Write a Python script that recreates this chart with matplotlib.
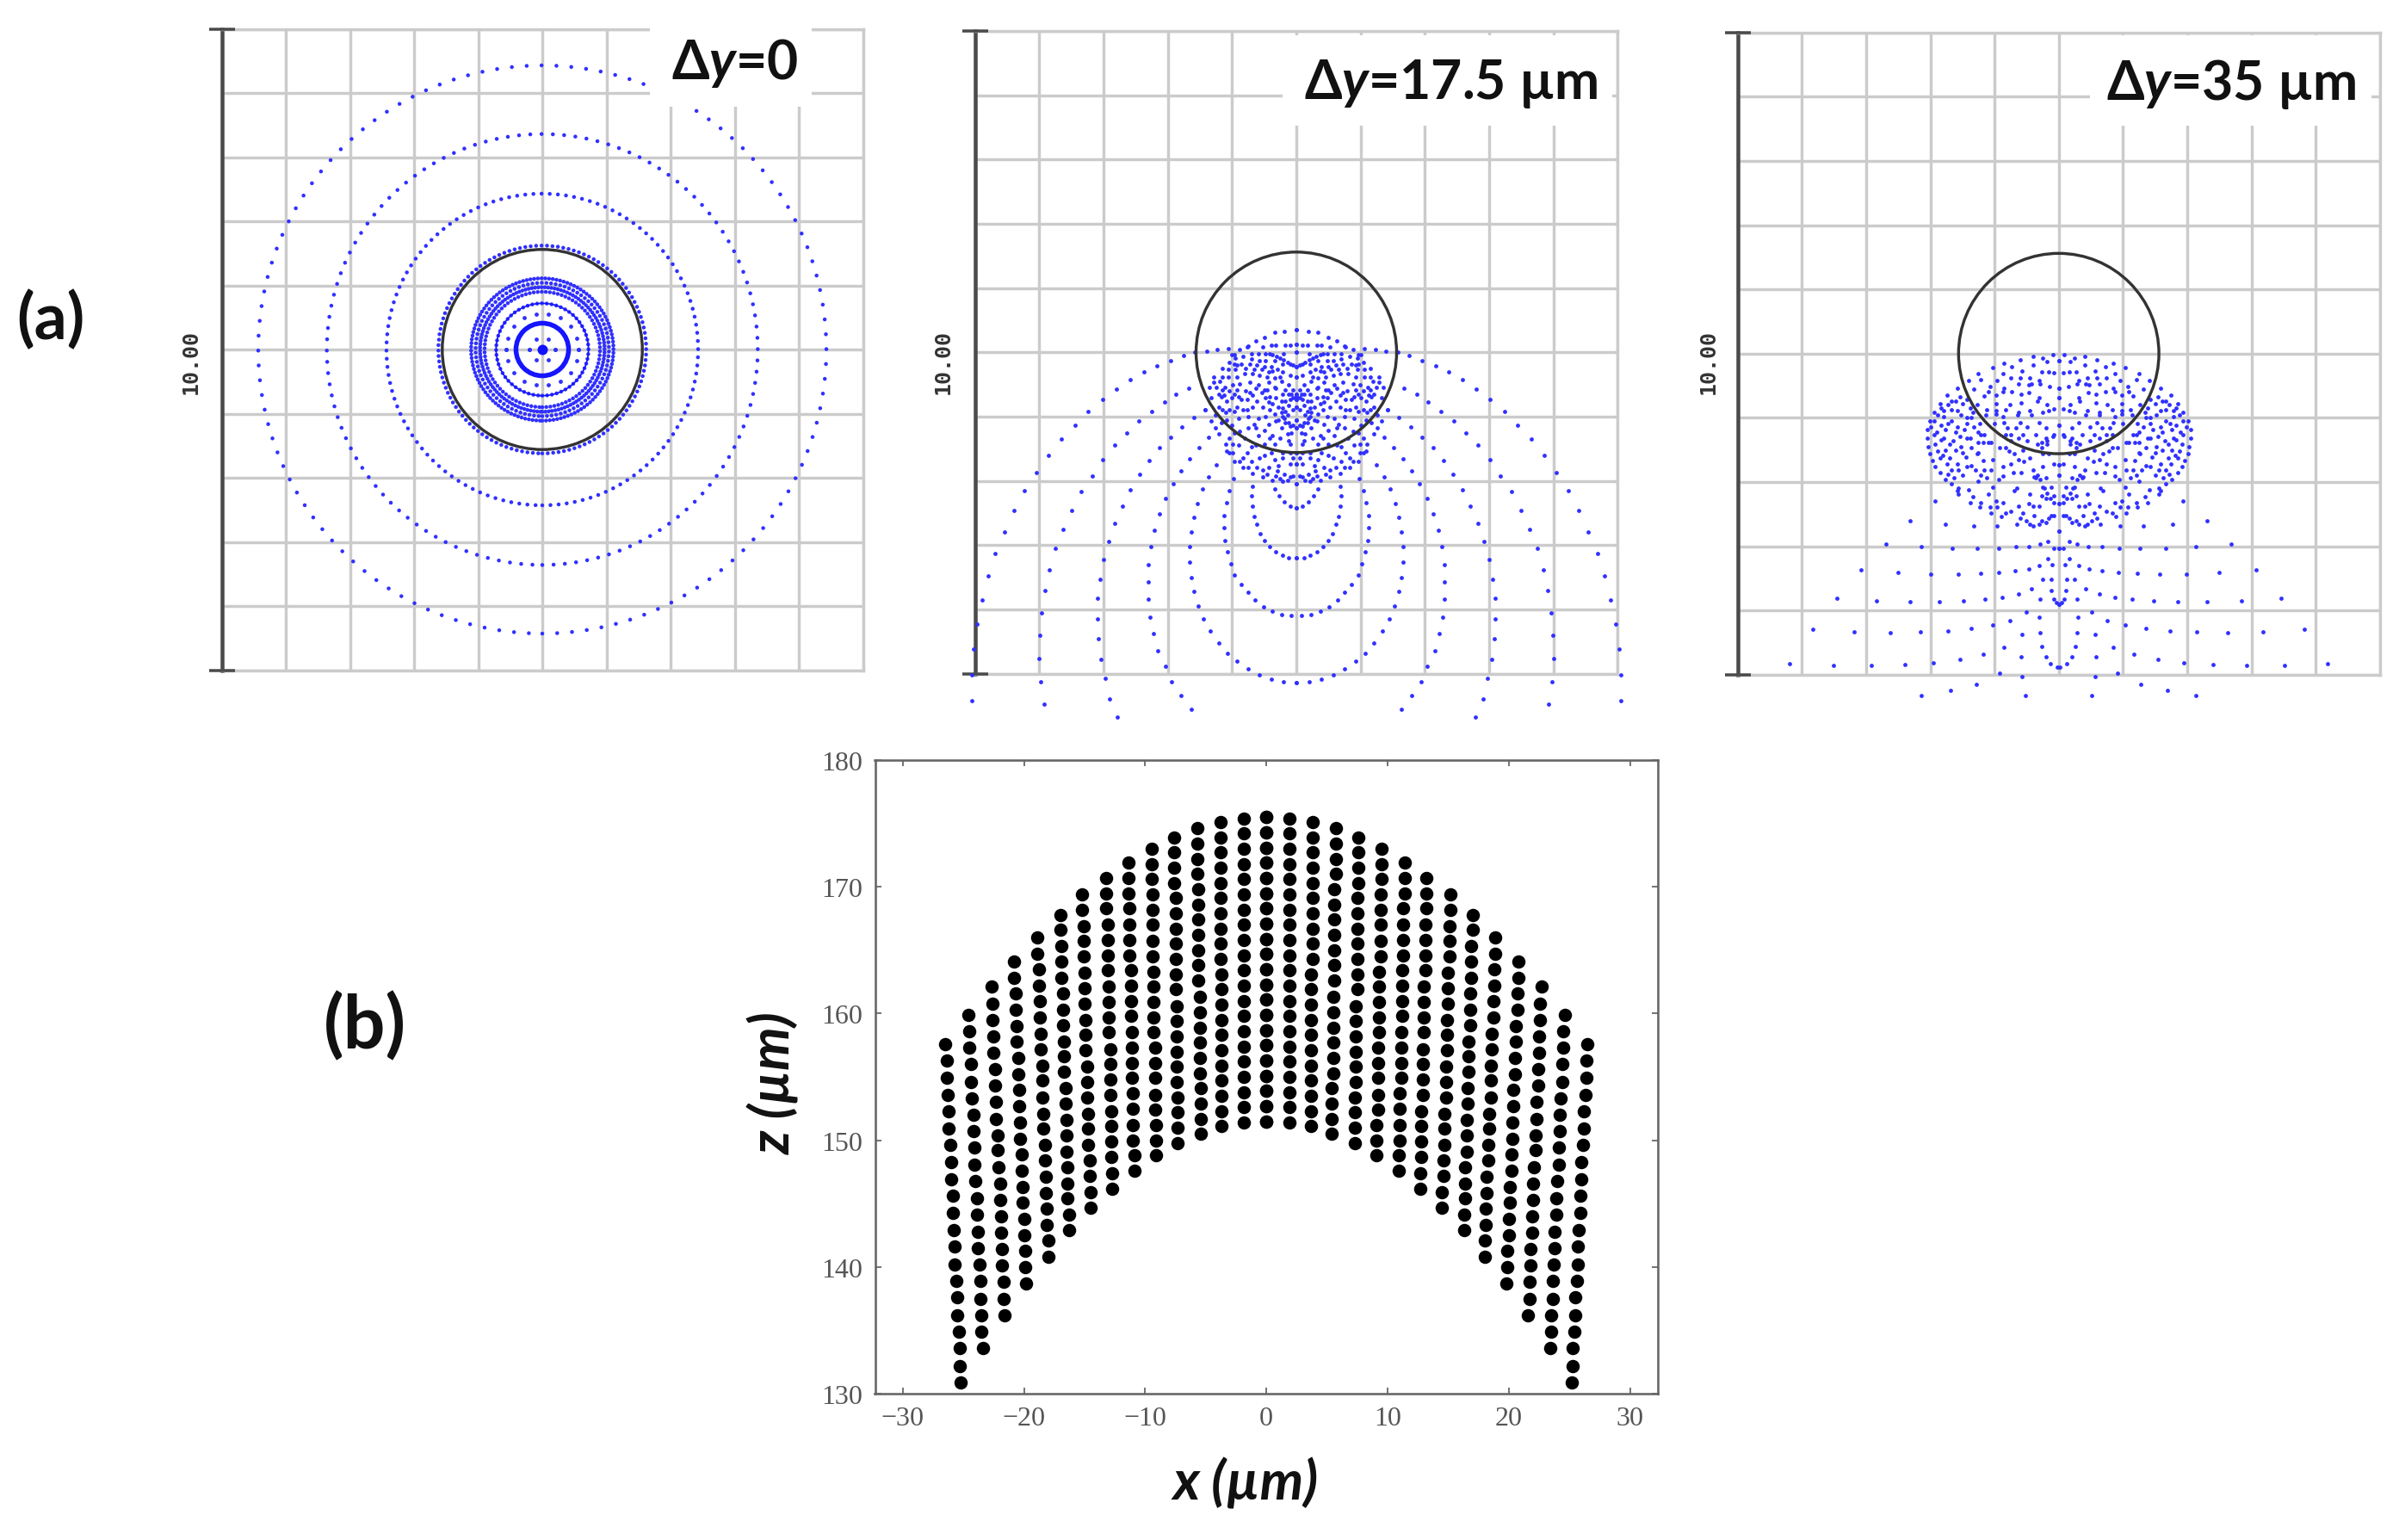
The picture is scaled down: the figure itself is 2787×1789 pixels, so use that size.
import numpy as np
import matplotlib
matplotlib.use("Agg")
import matplotlib.pyplot as plt
from matplotlib.patches import Circle, Rectangle

# ---------- data ----------
p1_dotted_ring_radii = [4.43, 3.36, 2.43, 1.62, 1.11, 1.04, 0.97, 0.90, 0.72]
p1_dotted_ring_counts = [120, 120, 120, 120, 120, 90, 120, 90, 60]
p1_solid_ring_radii = [0.72, 0.41]
p1_solid_ring_widths = [1.6, 5.5]
p1_q_x = [-0.10, -0.28, -0.44, -0.54, -0.57, -0.20, -0.10, 0.0]
p1_q_y = [0.55, 0.49, 0.36, 0.18, 0.0, 0.0, 0.16, 0.0]
target_radius = 1.56

p2_arc_a_x = [-5.05, -5.05, -5.02, -4.97, -4.89, -4.80, -4.69, -4.54, -4.39, -4.23, -4.04, -3.86, -3.65, -3.44, -3.24, -3.02, -2.80, -2.58, -2.37, -2.17, -1.96, -1.76, -1.58, -1.39, -1.23, -1.06]
p2_arc_a_y = [-5.42, -5.02, -4.62, -4.23, -3.85, -3.48, -3.13, -2.79, -2.46, -2.16, -1.87, -1.60, -1.35, -1.13, -0.92, -0.74, -0.57, -0.43, -0.31, -0.21, -0.13, -0.05, 0.0, 0.02, 0.04, 0.06]
p2_arc_b_x = [-3.93, -3.98, -4.00, -3.99, -3.97, -3.91, -3.84, -3.75, -3.63, -3.50, -3.35, -3.18, -3.01, -2.83, -2.64, -2.45, -2.25, -2.05, -1.87, -1.67]
p2_arc_b_y = [-5.48, -5.13, -4.77, -4.41, -4.06, -3.71, -3.38, -3.05, -2.75, -2.46, -2.17, -1.92, -1.67, -1.45, -1.25, -1.07, -0.92, -0.78, -0.65, -0.56]
p2_arc_c_x = [-2.79, -2.90, -2.98, -3.04, -3.08, -3.10, -3.09, -3.05, -3.00, -2.92, -2.83, -2.71, -2.59, -2.44, -2.29, -2.13, -1.96, -1.78, -1.60, -1.42]
p2_arc_c_y = [-5.68, -5.39, -5.08, -4.78, -4.46, -4.15, -3.83, -3.53, -3.23, -2.94, -2.66, -2.39, -2.14, -1.90, -1.69, -1.49, -1.32, -1.16, -1.01, -0.89]
p2_arc_d_x = [-1.63, -1.79, -1.94, -2.04, -2.15, -2.23, -2.28, -2.31, -2.31, -2.30, -2.27, -2.21, -2.13, -2.03, -1.92, -1.80, -1.66, -1.51, -1.36]
p2_arc_d_y = [-5.55, -5.34, -5.13, -4.89, -4.64, -4.38, -4.12, -3.84, -3.57, -3.30, -3.03, -2.77, -2.52, -2.28, -2.05, -1.84, -1.66, -1.48, -1.32]
p2_arc_e_x = [0.0, -0.20, -0.39, -0.58, -0.75, -0.92, -1.07, -1.21, -1.34, -1.44, -1.53, -1.59, -1.63, -1.66, -1.66, -1.64, -1.60, -1.54, -1.46, -1.37, -1.25]
p2_arc_e_y = [-5.14, -5.13, -5.09, -5.02, -4.93, -4.81, -4.68, -4.53, -4.34, -4.15, -3.95, -3.72, -3.50, -3.27, -3.03, -2.80, -2.57, -2.35, -2.13, -1.94, -1.75]
p2_arc_f_x = [-0.08, -0.23, -0.38, -0.51, -0.64, -0.75, -0.86, -0.96, -1.02, -1.07, -1.11, -1.12, -1.12, -1.09, -1.04, -0.98]
p2_arc_f_y = [-4.10, -4.08, -4.03, -3.96, -3.86, -3.74, -3.61, -3.46, -3.29, -3.11, -2.93, -2.73, -2.54, -2.34, -2.15, -1.97]
p2_arc_g_x = [0.0, -0.12, -0.22, -0.32, -0.41, -0.50, -0.56, -0.62, -0.66, -0.68, -0.69, -0.68]
p2_arc_g_y = [-3.20, -3.20, -3.16, -3.10, -3.02, -2.93, -2.82, -2.68, -2.55, -2.40, -2.24, -2.08]
p2_arc_h_x = [0.0, -0.10, -0.19, -0.27, -0.33]
p2_arc_h_y = [-2.42, -2.39, -2.33, -2.24, -2.13]
p2_edge_x = [-0.88, -0.75, -0.63, -0.50, -0.34, -0.19, 0.0, -1.01, -1.15, -1.28, -1.35, -1.33, -1.42, -1.33, -1.26, -1.21, -1.10, -1.08, -0.97, -0.83, -0.68, -0.52, -0.37, -0.21, 0.0]
p2_edge_y = [0.05, 0.10, 0.18, 0.23, 0.31, 0.33, 0.35, -0.04, -0.25, -0.38, -0.54, -0.71, -0.89, -1.07, -1.18, -1.27, -1.43, -1.54, -1.70, -1.79, -1.88, -1.94, -1.99, -2.01, -2.04]
p2_chevron_x = [-0.39, -0.32, -0.17, -0.10, 0.0, -0.52, -0.59, -0.48, -0.42, -0.37, -0.31, -0.25, -0.20, -0.14, -0.10, -0.05, 0.0, -0.20, 0.0, -0.86, -0.72, -0.61, -0.50, -0.39, -0.30, -0.21, -0.10, 0.0, -0.81, -0.68, -0.57, -0.46, -0.34, -0.23, -0.12, -0.05, 0.0, 0.0, 0.0]
p2_chevron_y = [0.11, 0.11, 0.11, 0.11, 0.13, 0.09, -0.02, -0.02, -0.03, -0.04, -0.07, -0.09, -0.12, -0.16, -0.18, -0.20, -0.22, -0.02, 0.0, -0.18, -0.18, -0.20, -0.22, -0.22, -0.27, -0.31, -0.36, -0.38, -0.33, -0.33, -0.36, -0.38, -0.40, -0.45, -0.51, -0.58, -0.65, -0.69, -0.74]
p2_cluster_x = [-1.19, -1.06, -0.95, -0.97, -1.11, -0.99, -0.88, -0.72, -0.59, -0.46, -0.32, -0.21, -1.17, -1.08, -0.97, -0.86, -0.72, -0.61, -0.48, -0.37, -0.28, -0.21, -0.12, -0.05, 0.0, -1.21, -1.10, -0.97, -0.83, -0.75, -0.59, -0.43, -0.32, -0.21, -0.17, -0.10, 0.0, 0.0, -0.14, -0.23, -0.37, -0.25, -0.14, -1.17, -1.01, -0.88, -0.75, -0.59, -0.50, -1.04, -0.90, -0.77, -0.63, -0.50, -0.34, -0.21, -0.12, -0.10, -0.10, 0.0, 0.0, -0.05, -0.57, -0.83, -0.43, -0.30, -0.19, -0.10, -0.32, -0.61, -0.99]
p2_cluster_y = [-0.45, -0.38, -0.27, -0.18, -0.54, -0.51, -0.49, -0.47, -0.51, -0.58, -0.56, -0.65, -0.69, -0.76, -0.65, -0.74, -0.62, -0.76, -0.71, -0.80, -0.85, -0.87, -0.83, -0.89, -0.85, -0.85, -0.94, -0.92, -0.89, -1.00, -1.03, -1.12, -1.07, -1.00, -1.09, -1.15, -1.18, -1.05, -0.98, -1.18, -1.29, -1.34, -1.27, -1.09, -1.14, -1.23, -1.18, -1.29, -1.43, -1.34, -1.45, -1.56, -1.45, -1.61, -1.67, -1.56, -1.38, -1.56, -1.74, -1.56, -1.74, -1.65, -1.65, -1.65, -1.79, -1.85, -1.90, -1.94, -1.92, -1.79, -1.56]
p2_lobe_x = [-1.28, -1.24, -1.15, -1.21, -1.12, -1.04, -1.01, -0.92, -0.90, -0.79, -0.77, -0.68, -0.63, -0.54, -0.50, -0.41, -0.43, -0.32, -0.23, -0.17, -0.10, -0.05, -0.52, -0.41, -0.68, -0.77, -0.92, -1.04, -1.15, -1.26, -1.08, -0.90, -0.66, -0.50, -0.41, -0.34, -0.63, -0.97, -0.81, -0.70, -0.99, -1.04, -0.88, -0.70, -0.75, -0.52, -0.46, -0.25, -0.14, -0.05, -0.28, -0.21, -0.39, -0.10, -0.08, -0.05, -0.12, -0.19, -0.17, -0.23, -0.28, -0.34, -0.48, -0.97, -0.83, -0.70, -0.77, -0.95, -1.04, -0.92, -0.79, -0.66, -1.06, -1.15, -0.92, -0.54, -0.43, -0.48, -0.34, -0.57, -0.70, -0.21, -0.37, -0.25, -0.43, -0.34, -0.17, -0.12, -0.08]
p2_lobe_y = [-0.47, -0.54, -0.58, -0.65, -0.67, -0.60, -0.71, -0.58, -0.69, -0.60, -0.74, -0.67, -0.56, -0.62, -0.58, -0.69, -0.78, -0.71, -0.76, -0.76, -0.74, -0.71, -0.85, -0.89, -0.85, -0.89, -0.85, -0.89, -0.89, -0.98, -1.05, -1.03, -1.12, -1.21, -1.34, -1.43, -1.18, -1.25, -1.34, -1.47, -1.43, -1.56, -1.70, -1.70, -1.79, -1.83, -1.90, -1.96, -1.99, -1.92, -1.76, -1.65, -1.56, -1.43, -1.25, -1.14, -1.09, -1.03, -0.92, -0.94, -1.05, -0.96, -1.00, -0.04, -0.07, -0.02, 0.09, -0.09, -0.16, -0.20, -0.25, -0.27, -0.27, -0.38, -0.38, -0.27, -0.31, -0.13, -0.13, -0.13, -0.11, -0.18, -0.29, -0.38, -0.47, -0.54, -0.58, -0.65, -0.65]

p3_sparse_x = [-4.19, -3.51, -2.92, -2.40, -1.95, -1.54, -1.17, -0.85, -0.58, -0.26, -0.20, -0.13, -0.02, -3.83, -3.18, -2.63, -2.15, -1.73, -1.36, -1.03, -0.76, -0.51, -0.30, -0.57, -0.29, -3.46, -2.84, -2.31, -1.86, -1.48, -1.15, -0.88, -0.63, -0.42, -0.29, -0.08, -0.11, -0.25, -0.12, 0.0, -0.04, -3.08, -2.50, -1.99, -1.57, -1.22, -0.93, -0.68, -0.47, -0.31, -0.10, -0.17, -2.69, -2.14, -1.66, -1.27, -0.94, -0.67, -0.46, -0.29, -0.17, 0.0, -0.07, -2.31, -1.77, -1.32, -0.96, -1.93, -2.14, -1.69, -1.28, -0.92, -0.57, -0.52]
p3_sparse_y = [-4.83, -4.86, -4.86, -4.84, -4.81, -4.76, -4.68, -4.57, -4.72, -4.56, -4.72, -4.83, -4.89, -4.30, -4.33, -4.35, -4.34, -4.32, -4.28, -4.23, -4.16, -4.03, -4.11, -4.38, -4.35, -3.81, -3.85, -3.87, -3.87, -3.85, -3.82, -3.80, -3.75, -3.66, -3.82, -3.82, -3.69, -3.52, -3.51, -3.91, -3.88, -3.37, -3.41, -3.43, -3.43, -3.42, -3.41, -3.38, -3.35, -3.30, -3.29, -3.20, -2.97, -3.01, -3.04, -3.03, -3.03, -3.01, -3.00, -2.97, -2.93, -3.04, -3.03, -2.61, -2.66, -2.69, -2.69, -2.30, -5.33, -5.25, -5.15, -4.98, -5.03, -5.32]
p3_cluster_x = [-2.05, -2.05, -2.03, -2.01, -1.96, -1.92, -1.85, -1.76, -1.67, -1.58, -2.01, -1.94, -1.85, -1.74, -1.58, -1.41, -1.25, -1.03, -0.85, -0.73, -0.60, -0.40, -0.40, -0.25, -0.18, -0.09, 0.0, -0.57, -0.27, -0.07, -0.87, -0.74, -0.63, -0.45, -0.42, -0.29, -0.15, 0.0, -1.07, -1.21, -1.32, -1.16, -0.98, -0.85, -0.73, -0.58, -0.46, -0.31, 0.0, -0.76, -0.58, -0.45, -0.98, -1.12, -0.18, -0.16, -0.07, -0.87, -0.64, -0.31, -0.60, -0.49, -0.67, -0.80, -0.74, -0.56, -0.36, -0.20, -0.07, 0.0, -0.49, -0.18, -0.09, -0.27, -0.18, -0.83, -0.56, -1.09, -1.25, -1.18, -1.25, -1.23, -1.36, -1.43, -1.58, -1.72, -1.61, -1.50, -1.58, -1.47, -1.67, -1.83, -1.76, -1.90, -1.79, -1.65, -1.52, -1.38, -1.76, -1.85, -1.70, -1.58, -1.45, -1.36, -1.27, -1.16, -1.50, -1.25, -1.03, -0.87, -0.74, -0.71, -0.63, -0.54, -0.45, -0.40, -0.36, -0.25, -0.20, -0.07, 0.0, 0.0, -0.22, -0.11, -0.07, 0.0, -1.56, -1.41, -1.34, -1.38, -1.23, -1.09, -0.98, -1.05, -0.87, -0.89, -0.74, -0.65, -0.63, -0.40, -0.56, -0.38, -0.31, -0.20, -0.51, -0.40, -0.27, -0.16, -0.07, 0.0, -0.69, -0.45, -1.03]
p3_cluster_y = [-1.18, -1.32, -1.45, -1.56, -1.67, -1.76, -1.85, -1.96, -2.03, -2.14, -1.05, -0.92, -0.78, -0.65, -0.54, -0.42, -0.31, -0.22, -0.15, -0.20, -0.10, -0.04, -0.18, -0.07, -0.12, -0.02, -0.11, -0.27, -0.29, -0.30, -0.31, -0.38, -0.47, -0.38, -0.47, -0.47, -0.51, -0.54, -0.51, -0.40, -0.56, -0.66, -0.65, -0.54, -0.60, -0.63, -0.61, -0.69, -0.69, -0.79, -0.77, -0.89, -0.78, -0.87, -0.80, -0.89, -0.86, -0.98, -0.96, -1.07, -1.07, -1.14, -1.16, -1.16, -1.27, -1.27, -1.27, -1.16, -1.27, -1.12, -1.36, -1.41, -1.29, -1.47, -1.36, -1.47, -1.50, -1.38, -1.38, -1.38, -1.23, -1.09, -1.00, -1.00, -0.89, -0.80, -0.74, -0.78, -1.14, -1.18, -1.05, -1.12, -1.18, -1.23, -1.32, -1.36, -1.45, -1.32, -1.50, -1.63, -1.63, -1.72, -1.61, -1.74, -1.56, -1.81, -1.89, -1.99, -1.65, -1.91, -1.72, -1.86, -1.65, -1.68, -1.63, -1.81, -1.94, -1.76, -1.94, -1.72, -1.73, -1.89, -2.10, -2.08, -2.21, -2.34, -2.10, -2.12, -2.23, -2.32, -2.39, -2.19, -2.30, -2.48, -2.32, -2.54, -2.46, -2.66, -2.37, -2.37, -2.48, -2.52, -2.37, -2.25, -2.61, -2.68, -2.61, -2.57, -2.52, -2.77, -2.13, -2.19, -2.08]
p3_lobe_x = [-1.99, -1.94, -1.92, -1.88, -1.83, -1.94, -1.88, -1.79, -1.67, -1.79, -1.67, -1.83, -1.54, -1.43, -1.38, -1.52, -1.73, -1.61, -1.54, -1.70, -1.61, -1.81, -1.74, -1.67, -1.72, -1.63, -1.56, -1.43, -1.50, -1.36, -1.43, -1.32, -1.43, -1.34, -1.14, -0.98, -1.00, -0.85, -1.27, -1.16, -1.05, -1.21, -0.92, -0.78, -0.69, -1.25, -1.18, -1.29, -1.21, -1.05, -0.87, -0.58, -0.33, -0.29, -0.38, -0.25, -0.18, -0.13, -0.27, -0.07, -0.94, -0.65, -0.47, -0.60, -0.45, -0.31, -0.20, -0.11, -0.83, -0.96, -1.07, -1.21, -1.56, -1.12, -0.74, -0.83, -0.20, -0.27, -0.33, -0.63, -0.25, -0.16, -0.60, -0.16, -0.31, -0.47, -0.96, -0.87, -1.09, -0.63, -0.42, -0.25, -0.83, -0.98, -0.33]
p3_lobe_y = [-1.14, -1.27, -1.41, -1.52, -1.34, -1.05, -0.96, -0.89, -0.87, -0.98, -0.74, -0.85, -0.67, -0.71, -0.85, -0.96, -1.09, -1.23, -1.29, -1.41, -1.50, -1.58, -1.72, -1.81, -1.88, -1.94, -1.81, -1.76, -1.54, -1.47, -1.32, -1.14, -1.09, -0.92, -0.96, -0.94, -1.09, -1.07, -0.80, -1.27, -1.38, -1.27, -1.47, -1.52, -1.56, -1.54, -1.67, -1.81, -1.90, -1.81, -1.76, -1.85, -1.90, -1.96, -1.92, -2.08, -2.17, -2.25, -2.21, -2.32, -1.96, -2.10, -2.34, -2.57, -2.66, -2.66, -2.63, -2.52, -2.48, -2.39, -2.39, -2.32, -2.19, -1.94, -1.36, -1.27, -1.32, -1.38, -1.41, -1.32, -1.56, -1.56, -0.38, -0.29, -0.42, -0.49, -0.42, -0.60, -0.60, -0.92, -0.96, -0.92, -0.87, -0.89, -0.74]

b_x01 = [-26.5, -26.4, -26.4, -26.3, -26.2, -26.2, -26.1, -26.0, -26.0, -25.9, -25.9, -25.8, -25.7, -25.7, -25.6, -25.5, -25.5, -25.4, -25.3, -25.3, -25.2]
b_z01 = [157.6, 156.3, 154.9, 153.6, 152.3, 150.9, 149.6, 148.3, 146.9, 145.6, 144.3, 142.9, 141.6, 140.2, 138.9, 137.6, 136.2, 134.9, 133.6, 132.2, 130.9]
b_x02 = [-24.6, -24.5, -24.5, -24.4, -24.4, -24.3, -24.2, -24.2, -24.1, -24.1, -24.0, -23.9, -23.9, -23.8, -23.8, -23.7, -23.6, -23.6, -23.5, -23.5, -23.4]
b_z02 = [159.9, 158.6, 157.3, 156.0, 154.6, 153.3, 152.0, 150.7, 149.4, 148.1, 146.8, 145.4, 144.1, 142.8, 141.5, 140.2, 138.9, 137.5, 136.2, 134.9, 133.6]
b_x03 = [-22.7, -22.6, -22.6, -22.5, -22.5, -22.4, -22.4, -22.3, -22.3, -22.2, -22.2, -22.1, -22.0, -22.0, -21.9, -21.9, -21.8, -21.8, -21.7, -21.7, -21.6]
b_z03 = [162.1, 160.8, 159.5, 158.2, 156.9, 155.6, 154.3, 153.0, 151.7, 150.4, 149.2, 147.9, 146.6, 145.3, 144.0, 142.7, 141.4, 140.1, 138.8, 137.5, 136.2]
b_x04 = [-20.8, -20.8, -20.7, -20.7, -20.6, -20.6, -20.5, -20.5, -20.4, -20.4, -20.3, -20.3, -20.2, -20.2, -20.1, -20.1, -20.0, -20.0, -19.9, -19.9, -19.8]
b_z04 = [164.1, 162.8, 161.6, 160.3, 159.0, 157.8, 156.5, 155.2, 154.0, 152.7, 151.4, 150.1, 148.9, 147.6, 146.3, 145.1, 143.8, 142.5, 141.3, 140.0, 138.7]
b_x05 = [-18.9, -18.9, -18.8, -18.8, -18.7, -18.7, -18.6, -18.6, -18.5, -18.5, -18.5, -18.4, -18.4, -18.3, -18.3, -18.2, -18.2, -18.1, -18.1, -18.0, -18.0]
b_z05 = [166.0, 164.7, 163.5, 162.2, 161.0, 159.7, 158.4, 157.2, 155.9, 154.7, 153.4, 152.1, 150.9, 149.6, 148.4, 147.1, 145.8, 144.6, 143.3, 142.1, 140.8]
b_x06 = [-17.0, -17.0, -16.9, -16.9, -16.9, -16.8, -16.8, -16.8, -16.7, -16.7, -16.7, -16.6, -16.6, -16.5, -16.5, -16.5, -16.4, -16.4, -16.4, -16.3, -16.3]
b_z06 = [167.8, 166.6, 165.3, 164.1, 162.8, 161.6, 160.3, 159.1, 157.8, 156.6, 155.4, 154.1, 152.9, 151.6, 150.4, 149.1, 147.9, 146.6, 145.4, 144.1, 142.9]
b_x07 = [-15.2, -15.2, -15.1, -15.1, -15.1, -15.0, -15.0, -15.0, -14.9, -14.9, -14.9, -14.8, -14.8, -14.8, -14.7, -14.7, -14.7, -14.6, -14.6, -14.5, -14.5]
b_z07 = [169.4, 168.2, 166.9, 165.7, 164.5, 163.2, 162.0, 160.8, 159.5, 158.3, 157.1, 155.8, 154.6, 153.4, 152.1, 150.9, 149.6, 148.4, 147.2, 145.9, 144.7]
b_x08 = [-13.2, -13.2, -13.2, -13.1, -13.1, -13.1, -13.1, -13.0, -13.0, -13.0, -13.0, -12.9, -12.9, -12.9, -12.9, -12.8, -12.8, -12.8, -12.8, -12.7, -12.7]
b_z08 = [170.7, 169.5, 168.3, 167.0, 165.8, 164.6, 163.4, 162.1, 160.9, 159.7, 158.5, 157.2, 156.0, 154.8, 153.6, 152.3, 151.1, 149.9, 148.7, 147.4, 146.2]
b_x09 = [-11.4, -11.4, -11.4, -11.3, -11.3, -11.3, -11.3, -11.2, -11.2, -11.2, -11.2, -11.1, -11.1, -11.1, -11.1, -11.0, -11.0, -11.0, -11.0, -10.9, -10.9]
b_z09 = [171.9, 170.7, 169.5, 168.3, 167.0, 165.8, 164.6, 163.4, 162.2, 161.0, 159.8, 158.5, 157.3, 156.1, 154.9, 153.7, 152.5, 151.2, 150.0, 148.8, 147.6]
b_x10 = [-9.5, -9.5, -9.5, -9.4, -9.4, -9.4, -9.4, -9.4, -9.3, -9.3, -9.3, -9.3, -9.3, -9.2, -9.2, -9.2, -9.2, -9.2, -9.1, -9.1, -9.1]
b_z10 = [173.0, 171.8, 170.6, 169.4, 168.2, 167.0, 165.7, 164.5, 163.3, 162.1, 160.9, 159.7, 158.5, 157.3, 156.1, 154.9, 153.6, 152.4, 151.2, 150.0, 148.8]
b_x11 = [-7.6, -7.6, -7.6, -7.6, -7.5, -7.5, -7.5, -7.5, -7.5, -7.5, -7.5, -7.4, -7.4, -7.4, -7.4, -7.4, -7.4, -7.3, -7.3, -7.3, -7.3]
b_z11 = [173.9, 172.7, 171.5, 170.3, 169.1, 167.9, 166.7, 165.5, 164.3, 163.1, 161.9, 160.6, 159.4, 158.2, 157.0, 155.8, 154.6, 153.4, 152.2, 151.0, 149.8]
b_x12 = [-5.7, -5.7, -5.7, -5.7, -5.6, -5.6, -5.6, -5.6, -5.6, -5.6, -5.6, -5.5, -5.5, -5.5, -5.5, -5.5, -5.5, -5.4, -5.4, -5.4, -5.4]
b_z12 = [174.6, 173.4, 172.2, 171.0, 169.8, 168.6, 167.4, 166.2, 165.0, 163.8, 162.6, 161.3, 160.1, 158.9, 157.7, 156.5, 155.3, 154.1, 152.9, 151.7, 150.5]
b_x13 = [-3.8, -3.8, -3.8, -3.8, -3.8, -3.8, -3.8, -3.8, -3.8, -3.8, -3.7, -3.7, -3.7, -3.7, -3.7, -3.7, -3.7, -3.7, -3.7, -3.7, -3.7]
b_z13 = [175.1, 173.9, 172.7, 171.5, 170.3, 169.1, 167.9, 166.7, 165.5, 164.3, 163.1, 161.9, 160.7, 159.5, 158.3, 157.1, 155.9, 154.7, 153.5, 152.3, 151.1]
b_x14 = [-1.9, -1.9, -1.9, -1.9, -1.9, -1.9, -1.9, -1.9, -1.9, -1.9, -1.9, -1.9, -1.9, -1.9, -1.9, -1.9, -1.9, -1.9, -1.9, -1.9, -1.9]
b_z14 = [175.4, 174.2, 173.0, 171.8, 170.6, 169.4, 168.2, 167.0, 165.8, 164.6, 163.4, 162.2, 161.0, 159.8, 158.6, 157.4, 156.2, 155.0, 153.8, 152.6, 151.4]
b_x15 = [0.0, 0.0, 0.0, 0.0, 0.0, 0.0, 0.0, 0.0, 0.0, 0.0, 0.0, 0.0, 0.0, 0.0, 0.0, 0.0, 0.0, 0.0, 0.0, 0.0, 0.0]
b_z15 = [175.5, 174.3, 173.1, 171.9, 170.7, 169.5, 168.3, 167.1, 165.9, 164.7, 163.5, 162.3, 161.1, 159.9, 158.7, 157.5, 156.3, 155.1, 153.9, 152.7, 151.5]
b_xticks = [-30, -20, -10, 0, 10, 20, 30]
b_zticks = [130, 140, 150, 160, 170, 180]
grid_ticks = [-5, -4, -3, -2, -1, 0, 1, 2, 3, 4, 5]

# ---------- figure ----------
W, H = 2787, 1790
DPI = 100
plt.rcParams.update({
    "font.family": ["Lato", "Open Sans", "DejaVu Sans"],
    "lines.scale_dashes": False,
    "mathtext.fontset": "custom",
    "mathtext.rm": "Lato:bold",
    "mathtext.it": "Lato:italic:bold",
    "mathtext.bf": "Lato:bold",
})
fig = plt.figure(figsize=(W / DPI, H / DPI), dpi=DPI, facecolor="white")
PT = 72 / DPI
BLUE = "#3030ff"
GRID = "#cbcbcb"


def axes_px(left, top, right, bottom):
    return fig.add_axes([left / W, 1 - bottom / H, (right - left) / W, (bottom - top) / H])


def mirror(x, y):
    x, y = np.asarray(x), np.asarray(y)
    return np.r_[x, -x], np.r_[y, y]


def spot_panel(left, top, right, bottom, label_x):
    ax = axes_px(left, top, right, bottom)
    ax.set_xlim(-5, 5)
    ax.set_ylim(-5, 5)
    ax.set_xticks(grid_ticks)
    ax.set_yticks(grid_ticks)
    ax.tick_params(length=0, labelleft=False, labelbottom=False)
    ax.grid(True, color=GRID, lw=3.4 * PT)
    ax.set_axisbelow(True)
    for side in ("top", "right", "bottom"):
        ax.spines[side].set_color(GRID)
        ax.spines[side].set_linewidth(3.4 * PT)
    ax.spines["left"].set_color("#4a4a4a")
    ax.spines["left"].set_linewidth(4.5 * PT)
    ax.plot([-5, -5], [-5, 5], ls="none", marker="_", ms=30 * PT, mew=3.5 * PT, color="#4a4a4a", clip_on=False, zorder=4)
    ax.add_patch(Circle((0, 0), target_radius, fill=False, ec="#333333", lw=3.4 * PT, zorder=6))
    fig.text(label_x / W, 1 - 421 / H, "10.00", rotation=90, ha="center", va="center",
             family="DejaVu Sans Mono", weight="bold", fontsize=18, color="#333333")
    return ax


def dots(ax, x, y, size=4.8):
    ax.scatter(x, y, s=(size * PT) ** 2, color=BLUE, linewidths=0, clip_on=False, zorder=5)


# Panel 1
ax1 = spot_panel(257.5, 34.5, 1002.5, 779.5, 222)
unit_px = 74.5
for r, n in zip(p1_dotted_ring_radii, p1_dotted_ring_counts):
    gap = 2 * np.pi * r * unit_px * PT / n
    ax1.add_patch(Circle((0, 0), r, fill=False, ec=BLUE, lw=4.6 * PT,
                         ls=(0, (0.01, gap)), capstyle="round", zorder=5))
for r, w in zip(p1_solid_ring_radii, p1_solid_ring_widths):
    ax1.add_patch(Circle((0, 0), r, fill=False, ec="#1515ff", lw=w * PT, zorder=5))
qx, qy = mirror(p1_q_x, p1_q_y)
dots(ax1, qx, qy)
dots(ax1, qx, -qy)
ax1.scatter([0], [0], s=(12 * PT) ** 2, color="#1010ff", linewidths=0, zorder=5)

# Panel 2
ax2 = spot_panel(1132.7, 37, 1879.3, 783.5, 1096)
for ax_x, ax_y in [(p2_arc_a_x, p2_arc_a_y), (p2_arc_b_x, p2_arc_b_y), (p2_arc_c_x, p2_arc_c_y),
                   (p2_arc_d_x, p2_arc_d_y), (p2_arc_e_x, p2_arc_e_y), (p2_arc_f_x, p2_arc_f_y),
                   (p2_arc_g_x, p2_arc_g_y), (p2_arc_h_x, p2_arc_h_y), (p2_edge_x, p2_edge_y),
                   (p2_chevron_x, p2_chevron_y), (p2_cluster_x, p2_cluster_y), (p2_lobe_x, p2_lobe_y)]:
    mx, my = mirror(ax_x, ax_y)
    dots(ax2, mx, my)

# Panel 3
ax3 = spot_panel(2018.7, 38.7, 2764.7, 784.7, 1985)
for ax_x, ax_y in [(p3_sparse_x, p3_sparse_y), (p3_cluster_x, p3_cluster_y), (p3_lobe_x, p3_lobe_y)]:
    mx, my = mirror(ax_x, ax_y)
    dots(ax3, mx, my)

# Masks and delta-y labels
for (x0, y0, x1, y1) in [(755, 22, 943, 125), (1490, 42, 1873, 147), (2428, 42, 2755, 147)]:
    fig.add_artist(Rectangle((x0 / W, 1 - y1 / H), (x1 - x0) / W, (y1 - y0) / H, transform=fig.transFigure,
                             fc="white", ec="none", zorder=8))
for cx, cy, s in [(854, 73, "Δ$\\mathit{y}$=0"), (1686, 98, "Δ$\\mathit{y}$=17.5 µm"), (2592, 98, "Δ$\\mathit{y}$=35 µm")]:
    fig.text(cx / W, 1 - cy / H, s, ha="center", va="center", weight="bold", fontsize=45, color="#111111", zorder=9)
fig.text(59 / W, 1 - 372 / H, "(a)", ha="center", va="center", weight="bold", fontsize=54, color="#111111")
fig.text(424 / W, 1 - 1193 / H, "(b)", ha="center", va="center", weight="bold", fontsize=62, color="#111111")

# Panel b
axb = axes_px(1016.5, 884, 1926, 1620)
axb.set_xlim(-32.3, 32.3)
axb.set_ylim(130, 180)
axb.set_xticks(b_xticks)
axb.set_yticks(b_zticks)
axb.set_xticklabels(["\u2212" + str(-v) if v < 0 else str(v) for v in b_xticks])
axb.tick_params(direction="in", length=7 * PT, width=1.6 * PT, top=True, right=True, color="#555555",
                labelcolor="#555555", labelsize=23, pad=10)
for lab in axb.get_xticklabels() + axb.get_yticklabels():
    lab.set_family("Liberation Serif")
for sp in axb.spines.values():
    sp.set_color("#666666")
    sp.set_linewidth(2.6 * PT)
b_cols = [(b_x01, b_z01), (b_x02, b_z02), (b_x03, b_z03), (b_x04, b_z04), (b_x05, b_z05),
          (b_x06, b_z06), (b_x07, b_z07), (b_x08, b_z08), (b_x09, b_z09), (b_x10, b_z10),
          (b_x11, b_z11), (b_x12, b_z12), (b_x13, b_z13), (b_x14, b_z14), (b_x15, b_z15)]
for cx, cz in b_cols:
    mx, mz = mirror(cx, cz)
    axb.scatter(mx, mz, s=(15.5 * PT) ** 2, color="black", linewidths=0, clip_on=False, zorder=3)
fig.text(1447 / W, 1 - 1723 / H, "x (µm)", ha="center", va="center", weight="bold", style="italic",
         fontsize=46, color="#111111")
fig.text(899 / W, 1 - 1258 / H, "z (µm)", ha="center", va="center", rotation=90, weight="bold", style="italic",
         fontsize=46, color="#111111")

fig.savefig("out.png", dpi=DPI, facecolor="white")
